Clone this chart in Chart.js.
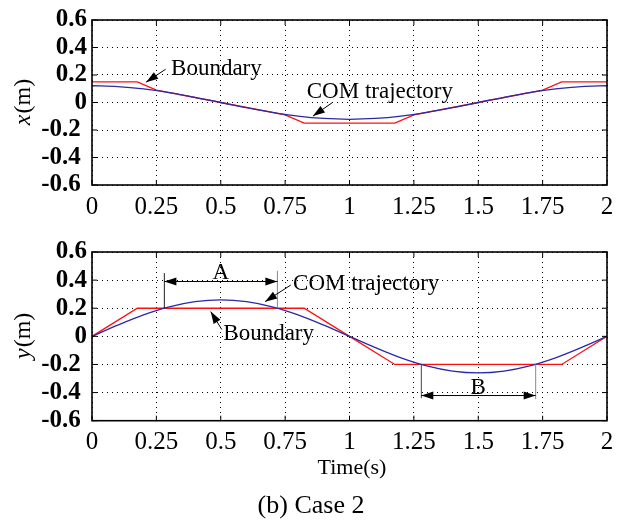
<!DOCTYPE html>
<html>
<head>
<meta charset="utf-8">
<script src="https://cdn.jsdelivr.net/npm/chart.js@4.4.0/dist/chart.umd.min.js"></script>
<style>
  body { margin: 0; background: #fff; }
  #wrap { position: relative; width: 624px; height: 521px; }
  canvas { position: absolute; left: 0; }
  #chartX { top: 0; }
  #chartY { top: 232px; }
  .lbl { position: absolute; font-family: "Liberation Serif", "Times New Roman", serif; color: #000; white-space: nowrap; transform: translateX(-50%); }
</style>
</head>
<body>
<div id="wrap">
  <canvas id="chartX" width="624" height="232"></canvas>
  <canvas id="chartY" width="624" height="289"></canvas>
  <div class="lbl" style="left:352px; top:456px; font-size:22px; line-height:22px;">Time(s)</div>
  <div class="lbl" style="left:311px; top:492px; font-size:26px; line-height:26px;">(b) Case 2</div>
</div>
<script>
// tick labels
const timeTicks = [0, 0.25, 0.5, 0.75, 1, 1.25, 1.5, 1.75, 2];
const posTicks = [-0.6, -0.4, -0.2, 0, 0.2, 0.4, 0.6];

// COM trajectory
const comTime = [0, 0.1, 0.2, 0.3, 0.4, 0.5, 0.6, 0.7, 0.8, 0.9, 1, 1.1, 1.2, 1.3, 1.4, 1.5, 1.6, 1.7, 1.8, 1.9, 2];
const comX = [0.122, 0.116, 0.099, 0.072, 0.038, 0, -0.038, -0.072, -0.099, -0.116, -0.122,
              -0.116, -0.099, -0.072, -0.038, 0, 0.038, 0.072, 0.099, 0.116, 0.122];
const comY = [0, 0.080, 0.153, 0.210, 0.247, 0.26, 0.247, 0.210, 0.153, 0.080, 0,
              -0.080, -0.153, -0.210, -0.247, -0.26, -0.247, -0.210, -0.153, -0.080, 0];

// boundaries
const boundXTime = [0, 0.176, 0.25, 0.5, 0.75, 0.824, 1.176, 1.25, 1.5, 1.75, 1.824, 2];
const boundX = [0.15, 0.15, 0.09, 0, -0.09, -0.15, -0.15, -0.09, 0, 0.09, 0.15, 0.15];
const boundYTime = [0, 0.176, 0.824, 1, 1.176, 1.824, 2];
const boundY = [0, 0.2, 0.2, 0, -0.2, -0.2, 0];

const toPts = (ts, vs) => ts.map((t, i) => ({ x: t, y: vs[i] }));

const serif = '"Liberation Serif", "Times New Roman", serif';

function line(ctx, x1, y1, x2, y2) {
  ctx.beginPath(); ctx.moveTo(x1, y1); ctx.lineTo(x2, y2); ctx.stroke();
}
function head(ctx, x1, y1, x2, y2) {
  const a = Math.atan2(y2 - y1, x2 - x1), L = 12, W = 4;
  ctx.beginPath();
  ctx.moveTo(x2, y2);
  ctx.lineTo(x2 - L * Math.cos(a) + W * Math.sin(a), y2 - L * Math.sin(a) - W * Math.cos(a));
  ctx.lineTo(x2 - L * Math.cos(a) - W * Math.sin(a), y2 - L * Math.sin(a) + W * Math.cos(a));
  ctx.closePath(); ctx.fill();
}

// frame, inward ticks, axis name and the annotations
const notesPlugin = {
  id: 'notes',
  afterDatasetsDraw(chart, args, o) {
    const { ctx, chartArea: a, scales: { x, y } } = chart;
    const px = t => x.getPixelForValue(t), py = v => y.getPixelForValue(v);
    ctx.save();
    ctx.setLineDash([]);
    ctx.strokeStyle = '#000'; ctx.fillStyle = '#000';
    ctx.lineWidth = 1;
    timeTicks.forEach(t => { line(ctx, px(t), a.bottom, px(t), a.bottom - 5); line(ctx, px(t), a.top, px(t), a.top + 5); });
    posTicks.forEach(v => { line(ctx, a.left, py(v), a.left + 5, py(v)); line(ctx, a.right, py(v), a.right - 5, py(v)); });
    ctx.lineWidth = 1.6;
    ctx.strokeRect(a.left, a.top, a.width, a.height);

    // axis name, rotated: italic variable + (m)
    ctx.save();
    ctx.translate(a.left - 62, (a.top + a.bottom) / 2);
    ctx.rotate(-Math.PI / 2);
    ctx.textBaseline = 'alphabetic';
    ctx.font = 'italic 24px ' + serif;
    const w1 = ctx.measureText(o.axisVar).width;
    ctx.font = '24px ' + serif;
    const w2 = ctx.measureText('(m)').width;
    let sx = -(w1 + w2) / 2;
    ctx.font = 'italic 24px ' + serif;
    ctx.fillText(o.axisVar, sx, 0);
    ctx.font = '24px ' + serif;
    ctx.fillText('(m)', sx + w1 + 1, 0);
    ctx.restore();

    ctx.lineWidth = 1;
    (o.marks || []).forEach(m => {
      ctx.strokeStyle = m.c;
      line(ctx, px(m.t), py(m.v1), px(m.t), py(m.v2));
    });
    ctx.strokeStyle = '#000';
    (o.spans || []).forEach(s => {
      const x1 = px(s.t1), x2 = px(s.t2), yy = py(s.v);
      line(ctx, x1, yy, x2, yy);
      head(ctx, x2, yy, x1, yy);
      head(ctx, x1, yy, x2, yy);
    });
    (o.arrows || []).forEach(r => {
      const x1 = px(r.from[0]), y1 = py(r.from[1]), x2 = px(r.to[0]), y2 = py(r.to[1]);
      line(ctx, x1, y1, x2, y2);
      head(ctx, x1, y1, x2, y2);
    });
    ctx.font = '23px ' + serif;
    ctx.textBaseline = 'alphabetic';
    (o.texts || []).forEach(s => {
      ctx.textAlign = s.align || 'left';
      ctx.fillText(s.s, px(s.t), py(s.v));
    });
    ctx.restore();
  }
};

// negative labels sit a little further left in the original
const yLabel = v => { const s = String(+v.toFixed(1)); return v < 0 ? s + ' ' : s; };

function makeChart(id, comVals, bTime, bVals, pad, xHeight, notes) {
  return new Chart(document.getElementById(id), {
    type: 'line',
    data: {
      datasets: [
        { data: toPts(comTime, comVals), borderColor: '#2a2aa8', borderWidth: 1.3, pointRadius: 0, cubicInterpolationMode: 'monotone' },
        { data: toPts(bTime, bVals), borderColor: '#ff1010', borderWidth: 1.3, pointRadius: 0, tension: 0 }
      ]
    },
    options: {
      responsive: false,
      animation: false,
      layout: { padding: pad },
      plugins: { legend: { display: false }, tooltip: { enabled: false }, notes: notes },
      scales: {
        x: {
          type: 'linear', min: 0, max: 2,
          afterBuildTicks: s => { s.ticks = timeTicks.map(v => ({ value: v })); },
          afterFit: s => { s.height = xHeight; },
          grid: { color: '#000', lineWidth: 1, drawTicks: false },
          border: { display: false, dash: [1, 4] },
          ticks: { color: '#000', padding: 7, autoSkip: false, maxRotation: 0, font: { family: serif, size: 25 }, callback: v => String(v) }
        },
        y: {
          type: 'linear', min: -0.6, max: 0.6,
          afterBuildTicks: s => { s.ticks = posTicks.map(v => ({ value: v })); },
          afterFit: s => { s.width = 92; },
          grid: { color: '#000', lineWidth: 1, drawTicks: false },
          border: { display: false, dash: [1, 4] },
          ticks: { color: '#000', padding: 5, autoSkip: false, font: { family: serif, size: 25, weight: 'bold' }, callback: yLabel }
        }
      }
    },
    plugins: [notesPlugin]
  });
}

function drawAll() {
  makeChart('chartX', comX, boundXTime, boundX, { top: 15, right: 17, bottom: 0, left: 0 }, 47, {
    axisVar: 'x',
    texts: [
      { t: 0.307, v: 0.2, s: 'Boundary' },
      { t: 0.834, v: 0.035, s: 'COM trajectory' }
    ],
    arrows: [
      { from: [0.286, 0.242], to: [0.21, 0.148] },
      { from: [0.934, 0.0], to: [0.858, -0.099] }
    ]
  });

  makeChart('chartY', comY, boundYTime, boundY, { top: 18.7, right: 17, bottom: 55, left: 0 }, 45.3, {
    axisVar: 'y',
    texts: [
      { t: 0.5, v: 0.411, s: 'A', align: 'center' },
      { t: 0.781, v: 0.33, s: 'COM trajectory' },
      { t: 0.51, v: -0.028, s: 'Boundary' },
      { t: 1.5, v: -0.409, s: 'B', align: 'center' }
    ],
    arrows: [
      { from: [0.772, 0.365], to: [0.672, 0.247] },
      { from: [0.504, 0.049], to: [0.461, 0.176] }
    ],
    spans: [
      { t1: 0.281, t2: 0.72, v: 0.39 },
      { t1: 1.279, t2: 1.723, v: -0.421 }
    ],
    marks: [
      { t: 0.281, v1: 0.2, v2: 0.45, c: '#222' },
      { t: 0.72, v1: 0.2, v2: 0.466, c: '#888' },
      { t: 1.279, v1: -0.2, v2: -0.44, c: '#444' },
      { t: 1.723, v1: -0.2, v2: -0.447, c: '#888' }
    ]
  });
}

Promise.all([
  document.fonts.load('24px "Liberation Serif"'),
  document.fonts.load('bold 24px "Liberation Serif"'),
  document.fonts.load('italic 24px "Liberation Serif"')
]).then(drawAll, drawAll);
</script>
</body>
</html>
